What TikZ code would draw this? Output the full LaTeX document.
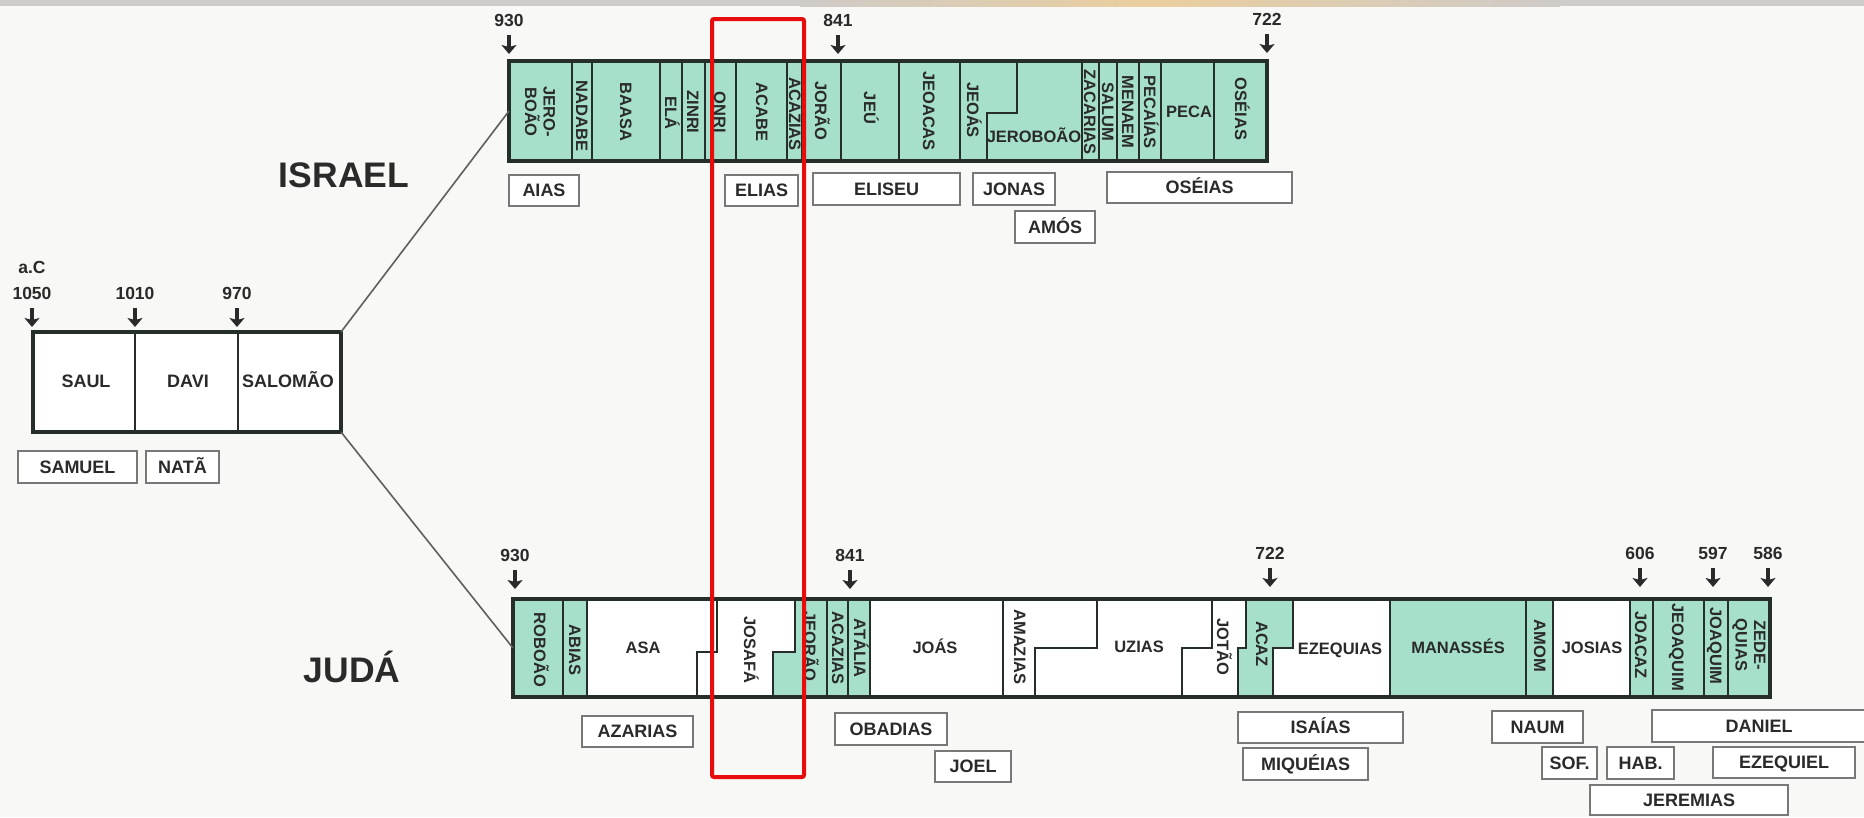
\documentclass[tikz,border=0pt]{standalone}
\usepackage{fontspec}
\setmainfont{Liberation Sans}
\usetikzlibrary{arrows.meta}
\definecolor{bg}{RGB}{248,248,246}
\definecolor{mint}{RGB}{166,224,202}
\definecolor{ink}{RGB}{42,42,42}
\definecolor{frame}{RGB}{38,46,42}
\definecolor{boxgray}{RGB}{120,120,120}
\definecolor{band}{RGB}{206,203,200}
\definecolor{glow}{RGB}{234,206,158}
\definecolor{redbox}{RGB}{232,12,12}
\definecolor{conn}{RGB}{95,95,95}
\tikzset{
 bartxt/.style={font=\bfseries\fontsize{16.5}{18.5}\selectfont, text=ink, inner sep=0pt},
 vlab/.style={bartxt, rotate=-90, text height=11.8pt, text depth=0pt},
 vlabb/.style={bartxt, rotate=-90, align=center},
 hlab/.style={bartxt, text height=11.8pt, text depth=0pt},
 uktxt/.style={font=\bfseries\fontsize{18}{18}\selectfont, text=ink, inner sep=0pt, text height=12.9pt, text depth=0pt},
 yr/.style={font=\bfseries\fontsize{17.5}{17.5}\selectfont, text=ink, inner sep=0pt, text height=12.5pt, text depth=0pt},
 yarr/.style={draw=ink, line width=3.6pt, -{Stealth[length=9pt,width=15pt,inset=2pt]}},
 lbox/.style={draw=boxgray, line width=2.4pt, fill=white, font=\bfseries\fontsize{18}{18}\selectfont, text=ink, inner sep=0pt, text height=12.9pt, text depth=0pt},
 titletxt/.style={font=\bfseries\fontsize{35.5}{36}\selectfont, text=ink, inner sep=0pt, anchor=base},
 frm/.style={draw=frame, line width=4.5pt, inner sep=0pt, outer sep=0pt},
 divl/.style={draw=frame, line width=2pt},
 link/.style={draw=conn, line width=1.6pt},
}
\newcommand\lblbox[6]{\node[lbox, minimum width={#4-#2}, minimum height={#5-#3}] (#1) at ({(#2+#4)/2},{(#3+#5)/2}) {#6};}
\newcommand\yrmark[4]{\node[yr] (#1) at (#2,#3) {#4};
  \coordinate (#1e) at (#2,#3+34);
  \draw[yarr, shorten <=9pt] (#1) -- (#1e);}
\begin{document}
\begin{tikzpicture}[x=1pt,y=-1pt]
\fill[bg] (0,0) rectangle (1864,817);
\useasboundingbox (0,0) rectangle (1864,817);
% top band
\fill[band] (0,0) rectangle (1864,6);
\shade[left color=band, right color=glow] (800,0) rectangle (1150,6);
\shade[left color=glow, right color=band] (1150,0) rectangle (1560,6);

% ---------- United kingdom ----------
\node[frm, fill=white, minimum width=308, minimum height=100] (uk) at (187,382) {};
\draw[divl] (135,332) -- (135,432);
\draw[divl] (238,332) -- (238,432);
\node[uktxt] (saul) at (86,381) {SAUL};
\node[uktxt] (davi) at (188,381) {DAVI};
\node[uktxt] (salomao) at (288,381) {SALOMÃO};
\node[yr] (ac) at (32,267) {a.C};
\yrmark{ya}{32}{293}{1050}
\yrmark{yb}{135}{293}{1010}
\yrmark{yc}{237}{293}{970}
\lblbox{samuel}{18}{451}{137}{483}{SAMUEL}
\lblbox{nata}{146}{451}{219}{483}{NATÃ}

% ---------- Israel ----------
\fill[mint] (509,61) rectangle (1267,161);
\foreach \x in {572,592,660,682,705,736,787,802,841,899,960,1082,1099,1117,1139,1161,1214}
  \draw[divl] (\x,61) -- (\x,161);
\draw[divl] (1017,61) -- (1017,113) -- (987,113) -- (987,161);
\node[frm, minimum width=758, minimum height=100] (isr) at (888,111) {};
\node[vlabb] (i1) at (540,112) {JERO-\\BOÃO};
\node[vlab] (i2) at (582,116) {NADABE};
\node[vlab] (i3) at (626,112) {BAASA};
\node[vlab] (i4) at (671,113) {ELÁ};
\node[vlab] (i5) at (693,112) {ZINRI};
\node[vlab] (i6) at (720,112) {ONRI};
\node[vlab] (i7) at (762,112) {ACABE};
\node[vlab] (i8) at (795,114) {ACAZIAS};
\node[vlab] (i9) at (821,111) {JORÃO};
\node[vlab] (i10) at (870,108) {JEÚ};
\node[vlab] (i11) at (929,111) {JEOACAS};
\node[vlab] (i12) at (973,110) {JEOÁS};
\node[hlab] (i13) at (1034,137) {JEROBOÃO};
\node[vlab] (i14) at (1090,112) {ZACARIAS};
\node[vlab] (i15) at (1108,112) {SALUM};
\node[vlab] (i16) at (1128,112) {MENAEM};
\node[vlab] (i17) at (1150,112) {PECAÍAS};
\node[hlab] (i18) at (1189,112) {PECA};
\node[vlab] (i19) at (1241,109) {OSÉIAS};
\yrmark{yi1}{509}{20}{930}
\yrmark{yi2}{838}{20}{841}
\yrmark{yi3}{1267}{19}{722}
\node[titletxt] (israel) at (344,187) {ISRAEL};
\lblbox{aias}{509}{175}{579}{206}{AIAS}
\lblbox{elias}{725}{175}{798}{206}{ELIAS}
\lblbox{eliseu}{813}{173}{960}{205}{ELISEU}
\lblbox{jonas}{973}{173}{1055}{205}{JONAS}
\lblbox{amos}{1015}{211}{1095}{243}{AMÓS}
\lblbox{oseias}{1107}{172}{1292}{203}{OSÉIAS}

% ---------- Juda ----------
\fill[white] (513,599) rectangle (1770,697);
\fill[mint] (513,599) rectangle (587,697);
\fill[mint] (795,599) -- (827,599) -- (827,697) -- (773,697) -- (773,652) -- (795,652) -- cycle;
\fill[mint] (827,599) rectangle (870,697);
\fill[mint] (1246,599) -- (1293,599) -- (1293,648) -- (1273,648) -- (1273,697) -- (1238,697) -- (1238,648) -- (1246,648) -- cycle;
\fill[mint] (1390,599) rectangle (1553,697);
\fill[mint] (1630,599) rectangle (1770,697);
\foreach \x in {563,587,827,848,870,1003,1390,1526,1553,1630,1653,1704,1728}
  \draw[divl] (\x,599) -- (\x,697);
\draw[divl] (717,599) -- (717,652) -- (697,652) -- (697,697);
\draw[divl] (795,599) -- (795,652) -- (773,652) -- (773,697);
\draw[divl] (1097,599) -- (1097,648) -- (1035,648) -- (1035,697);
\draw[divl] (1212,599) -- (1212,648) -- (1182,648) -- (1182,697);
\draw[divl] (1246,599) -- (1246,648) -- (1238,648) -- (1238,697);
\draw[divl] (1293,599) -- (1293,648) -- (1273,648) -- (1273,697);
\node[frm, minimum width=1257, minimum height=98] (jud) at (1141.5,648) {};
\node[vlab] (j1) at (540,650) {ROBOÃO};
\node[vlab] (j2) at (575,650) {ABIAS};
\node[hlab] (j3) at (643,648) {ASA};
\node[vlab] (j4) at (750,650) {JOSAFÁ};
\node[vlab] (j5) at (810,646) {JEORÃO};
\node[vlab] (j6) at (838,648) {ACAZIAS};
\node[vlab] (j7) at (860,648) {ATÁLIA};
\node[hlab] (j8) at (935,648) {JOÁS};
\node[vlab] (j9) at (1020,647) {AMAZIAS};
\node[hlab] (j10) at (1139,647) {UZIAS};
\node[vlab] (j11) at (1223,647) {JOTÃO};
\node[vlab] (j12) at (1262,644) {ACAZ};
\node[hlab] (j13) at (1340,649) {EZEQUIAS};
\node[hlab] (j14) at (1458,648) {MANASSÉS};
\node[vlab] (j15) at (1540,646) {AMOM};
\node[hlab] (j16) at (1592,648) {JOSIAS};
\node[vlab] (j17) at (1641,645) {JOACAZ};
\node[vlab] (j18) at (1678,647) {JEOAQUIM};
\node[vlab] (j19) at (1716,646) {JOAQUIM};
\node[vlabb] (j20) at (1749,645) {ZEDE-\\QUIAS};
\yrmark{yj1}{515}{555}{930}
\yrmark{yj2}{850}{555}{841}
\yrmark{yj3}{1270}{553}{722}
\yrmark{yj4}{1640}{553}{606}
\yrmark{yj5}{1713}{553}{597}
\yrmark{yj6}{1768}{553}{586}
\node[titletxt] (juda) at (352,682) {JUDÁ};
\lblbox{azarias}{582}{716}{693}{747}{AZARIAS}
\lblbox{obadias}{835}{713}{947}{745}{OBADIAS}
\lblbox{joel}{935}{751}{1011}{782}{JOEL}
\lblbox{isaias}{1238}{712}{1403}{743}{ISAÍAS}
\lblbox{miqueias}{1243}{748}{1368}{780}{MIQUÉIAS}
\lblbox{naum}{1492}{711}{1583}{743}{NAUM}
\lblbox{daniel}{1652}{710}{1866}{742}{DANIEL}
\lblbox{sof}{1542}{747}{1597}{779}{SOF.}
\lblbox{hab}{1607}{747}{1674}{779}{HAB.}
\lblbox{ezequiel}{1713}{747}{1855}{778}{EZEQUIEL}
\lblbox{jeremias}{1590}{785}{1788}{815}{JEREMIAS}

% ---------- connectors ----------
\draw[link] (uk.north east) -- (isr.west);
\draw[link] (uk.south east) -- (jud.west);

% ---------- red highlight ----------
\draw[redbox, line width=4pt, rounded corners=2pt] (712,19) rectangle (804,777);
\end{tikzpicture}
\end{document}
